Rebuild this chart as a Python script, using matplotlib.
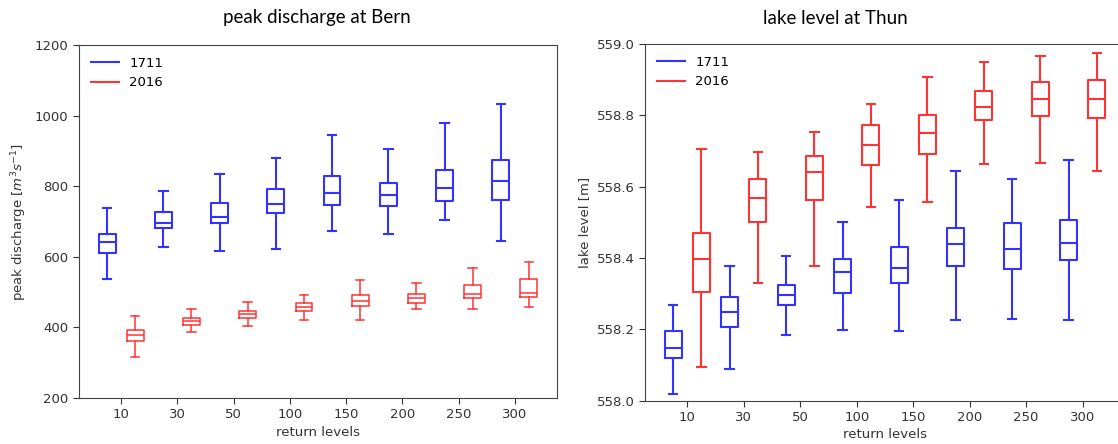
import matplotlib
matplotlib.use('Agg')
import matplotlib.pyplot as plt
from matplotlib.lines import Line2D

# return levels (x categories)
return_levels = ['10', '30', '50', '100', '150', '200', '250', '300']

# peak discharge at Bern [m3/s] - box stats
bern_1711_whislo = [538, 629, 617, 623, 672, 664, 704, 645]
bern_1711_q1 = [610, 681, 695, 724, 747, 743, 759, 761]
bern_1711_med = [641, 697, 714, 750, 782, 774, 795, 815]
bern_1711_q3 = [666, 727, 751, 792, 830, 808, 847, 874]
bern_1711_whishi = [737, 787, 834, 881, 945, 904, 978, 1033]

bern_2016_whislo = [317, 388, 404, 421, 421, 451, 453, 459]
bern_2016_q1 = [361, 407, 426, 447, 461, 470, 483, 486]
bern_2016_med = [378, 418, 437, 458, 474, 482, 495, 498]
bern_2016_q3 = [392, 426, 446, 468, 492, 495, 520, 536]
bern_2016_whishi = [432, 453, 471, 493, 533, 526, 567, 585]

# lake level at Thun [m]
thun_1711_whislo = [558.020, 558.088, 558.185, 558.197, 558.195, 558.226, 558.229, 558.226]
thun_1711_q1 = [558.121, 558.207, 558.267, 558.301, 558.329, 558.378, 558.368, 558.395]
thun_1711_med = [558.148, 558.249, 558.297, 558.361, 558.371, 558.439, 558.426, 558.442]
thun_1711_q3 = [558.195, 558.290, 558.325, 558.398, 558.430, 558.485, 558.497, 558.507]
thun_1711_whishi = [558.267, 558.378, 558.406, 558.502, 558.563, 558.644, 558.622, 558.675]

thun_2016_whislo = [558.094, 558.331, 558.377, 558.543, 558.556, 558.663, 558.666, 558.644]
thun_2016_q1 = [558.306, 558.502, 558.562, 558.660, 558.691, 558.787, 558.797, 558.792]
thun_2016_med = [558.396, 558.568, 558.641, 558.718, 558.750, 558.824, 558.846, 558.846]
thun_2016_q3 = [558.470, 558.622, 558.685, 558.772, 558.802, 558.867, 558.894, 558.900]
thun_2016_whishi = [558.706, 558.696, 558.753, 558.833, 558.908, 558.950, 558.966, 558.974]

BLUE = '#3333ff'
RED = '#ff3333'
W, H = 1118, 444


def make_stats(lo, q1, med, q3, hi):
    return [dict(whislo=a, q1=b, med=c, q3=d, whishi=e, fliers=[])
            for a, b, c, d, e in zip(lo, q1, med, q3, hi)]


def draw_boxes(ax, stats, offset, color, lw):
    pos = [i + 1 + offset for i in range(len(stats))]
    props = dict(color=color, linewidth=lw)
    ax.bxp(stats, positions=pos, widths=0.3, showfliers=False,
           boxprops=props, whiskerprops=props, capprops=props,
           medianprops=props, manage_ticks=False)


def style_axes(ax, ylabel):
    ax.set_xticks(range(1, len(return_levels) + 1))
    ax.set_xticklabels(return_levels)
    ax.set_xlim(0.25, len(return_levels) + 0.75)
    ax.set_xlabel('return levels', fontsize=9.5, color='#333333', labelpad=3)
    ax.set_ylabel(ylabel, fontsize=9.5, color='#333333')
    ax.tick_params(labelsize=9.5, colors='#333333', length=4)
    for s in ax.spines.values():
        s.set_color('#444444')
    handles = [Line2D([], [], color=BLUE, lw=1.5), Line2D([], [], color=RED, lw=1.5)]
    ax.legend(handles, ['1711', '2016'], loc='upper left', frameon=False,
              fontsize=9.5, handlelength=2.1)


fig = plt.figure(figsize=(W / 100, H / 100), dpi=100)

# left panel
ax1 = fig.add_axes([79 / W, 1 - 398 / H, (557 - 79) / W, (398 - 45) / H])
draw_boxes(ax1, make_stats(bern_1711_whislo, bern_1711_q1, bern_1711_med, bern_1711_q3, bern_1711_whishi), -0.25, BLUE, 1.5)
draw_boxes(ax1, make_stats(bern_2016_whislo, bern_2016_q1, bern_2016_med, bern_2016_q3, bern_2016_whishi), 0.25, RED, 1.1)
ax1.set_ylim(200, 1200)
ax1.set_yticks([200, 400, 600, 800, 1000, 1200])
style_axes(ax1, 'peak discharge [$m^3s^{-1}$]')

# right panel (cut off at the right edge like the screenshot)
ax2 = fig.add_axes([645 / W, 1 - 400.7 / H, (1125 - 645) / W, (400.7 - 44) / H])
draw_boxes(ax2, make_stats(thun_1711_whislo, thun_1711_q1, thun_1711_med, thun_1711_q3, thun_1711_whishi), -0.25, BLUE, 1.5)
draw_boxes(ax2, make_stats(thun_2016_whislo, thun_2016_q1, thun_2016_med, thun_2016_q3, thun_2016_whishi), 0.25, RED, 1.5)
ax2.set_ylim(558.0, 559.0)
ax2.set_yticks([558.0, 558.2, 558.4, 558.6, 558.8, 559.0])
ax2.set_yticklabels(['558.0', '558.2', '558.4', '558.6', '558.8', '559.0'])
style_axes(ax2, 'lake level [m]')

# titles
fig.text(317 / W, 1 - 18 / H, 'peak discharge at Bern', ha='center', va='center',
         fontsize=13.5, family='Lato', color='black')
fig.text(835 / W, 1 - 18 / H, 'lake level at Thun', ha='center', va='center',
         fontsize=13.5, family='Lato', color='black')

fig.savefig('out.png', dpi=100)
